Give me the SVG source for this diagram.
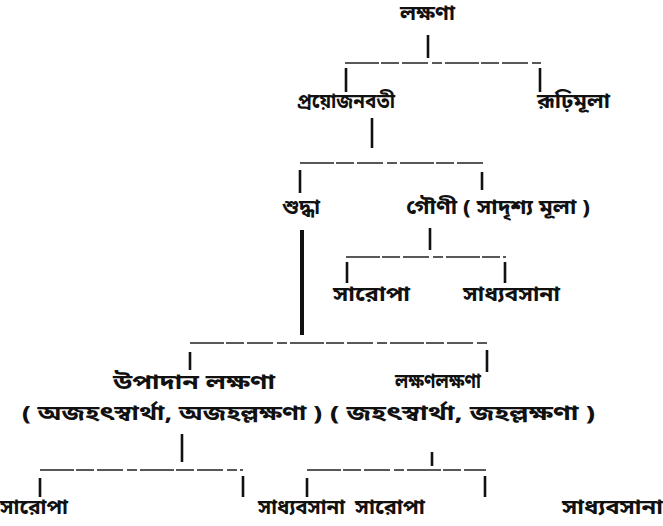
<svg xmlns="http://www.w3.org/2000/svg" width="663" height="526" viewBox="0 0 663 526">
<style>
text{font-family:"Noto Sans Bengali","Noto Serif Bengali","Lohit Bengali","Noto Sans",sans-serif;font-size:20px;font-weight:bold;fill:#111;dominant-baseline:middle}
.v{stroke:#111;stroke-width:2.6;fill:none}
.h{stroke:#222;stroke-width:1.4;fill:none;stroke-dasharray:34 2 18 3 26 4 10 3}
</style>
<rect width="663" height="526" fill="#fff"/>
<g id="connectors">
<path class="v" d="M428 35V58"/>
<path class="h" d="M345 63H541"/>
<path class="v" d="M346 68V92M540 68V92"/>
<path class="v" d="M372 118V148"/>
<path class="h" d="M300 163H485"/>
<path class="v" d="M300 170V193M482 172V190"/>
<path class="v" d="M430 228V250"/>
<path class="h" d="M346 257H506"/>
<path class="v" d="M347 262V283M505 262V283"/>
<path class="v" d="M302 230V335" style="stroke-width:4"/>
<path class="h" d="M190 343H488"/>
<path class="v" d="M190 352V370M487 350V372"/>
<path class="v" d="M182 434V462"/>
<path class="v" d="M432 452V466"/>
<path class="h" d="M40 470H243M307 470H486"/>
<path class="v" d="M40 478V497M243 476V497M307 478V497M485 476V497"/>
</g>
<g id="n1"><text x="400" y="15" textLength="55" lengthAdjust="spacingAndGlyphs">লক্ষণা</text></g>
<g id="n2"><text x="297" y="103" textLength="98" lengthAdjust="spacingAndGlyphs">প্রয়োজনবতী</text></g>
<g id="n3"><text x="537" y="103" textLength="73" lengthAdjust="spacingAndGlyphs">রূঢ়িমূলা</text></g>
<g id="n4"><text x="282" y="209" textLength="38" lengthAdjust="spacingAndGlyphs">শুদ্ধা</text></g>
<g id="n5"><text x="406" y="209" textLength="184" lengthAdjust="spacingAndGlyphs">গৌণী ( সাদৃশ্য মূলা )</text></g>
<g id="n6"><text x="333" y="296" textLength="77" lengthAdjust="spacingAndGlyphs">সারোপা</text></g>
<g id="n7"><text x="463" y="296" textLength="97" lengthAdjust="spacingAndGlyphs">সাধ্যবসানা</text></g>
<g id="n8"><text x="113" y="384" textLength="162" lengthAdjust="spacingAndGlyphs">উপাদান লক্ষণা</text><text x="22" y="415" textLength="300" lengthAdjust="spacingAndGlyphs">( অজহৎস্বার্থা, অজহল্লক্ষণা )</text></g>
<g id="n9"><text x="395" y="383" textLength="86" lengthAdjust="spacingAndGlyphs">লক্ষণলক্ষণা</text><text x="330" y="415" textLength="265" lengthAdjust="spacingAndGlyphs">( জহৎস্বার্থা, জহল্লক্ষণা )</text></g>
<g id="n10"><text x="0" y="509" textLength="68" lengthAdjust="spacingAndGlyphs">সারোপা</text></g>
<g id="n11"><text x="258" y="509" textLength="87" lengthAdjust="spacingAndGlyphs">সাধ্যবসানা</text></g>
<g id="n12"><text x="355" y="509" textLength="70" lengthAdjust="spacingAndGlyphs">সারোপা</text></g>
<g id="n13"><text x="562" y="509" textLength="101" lengthAdjust="spacingAndGlyphs">সাধ্যবসানা</text></g>
</svg>
